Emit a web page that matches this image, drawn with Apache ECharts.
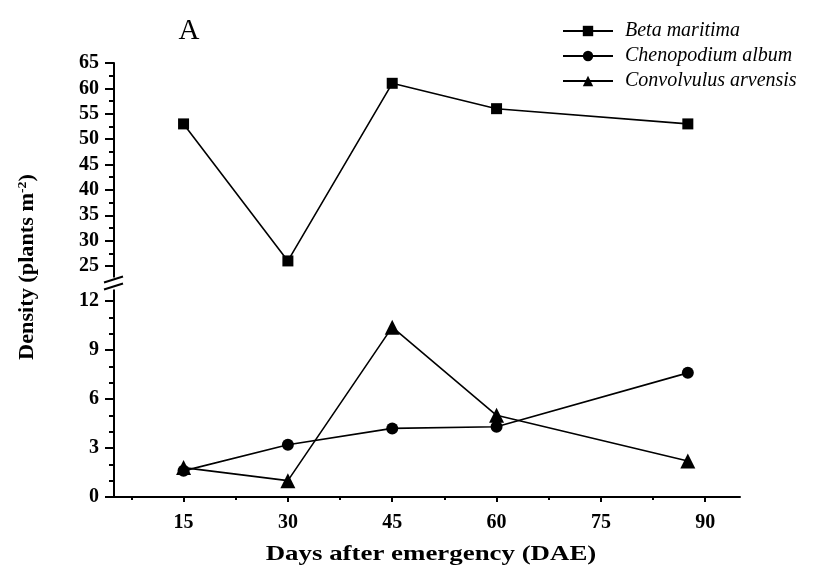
<!DOCTYPE html>
<html>
<head>
<meta charset="utf-8">
<script src="https://cdn.jsdelivr.net/npm/echarts@6/dist/echarts.min.js"></script>
<style>
html,body{margin:0;padding:0;background:#fff;}
#c{width:815px;height:572px;}
</style>
</head>
<body>
<div id="c"></div>
<script>
var days = [15, 30, 45, 60, 87.5];
var betaMaritima = [53, 26, 61, 56, 53];
var chenopodiumAlbum = [1.6, 3.2, 4.2, 4.3, 7.6];
var convolvulusArvensis = [1.8, 1.0, 10.4, 5.0, 2.2];
var seriesNames = ['Beta maritima', 'Chenopodium album', 'Convolvulus arvensis'];
var xTicks = [15, 30, 45, 60, 75, 90];
var xMinorTicks = [7.5, 22.5, 37.5, 52.5, 67.5, 82.5];

function pairs(xs, ys) { return xs.map(function (x, i) { return [x, ys[i]]; }); }

var FONT = '"Liberation Serif", "Times New Roman", serif';
var chart = echarts.init(document.getElementById('c'), null, { renderer: 'canvas' });

var axisLineStyle = { color: '#000', width: 2 };
var yLabelStyle = { margin: 15, color: '#000', fontFamily: FONT, fontSize: 20, fontWeight: 'bold' };
var xLabelStyle = { margin: 16, color: '#000', fontFamily: FONT, fontSize: 20, fontWeight: 'bold' };

var option = {
  backgroundColor: '#fff',
  animation: false,
  title: {
    text: 'A', left: 184, top: 12, textAlign: 'center',
    textStyle: { fontFamily: FONT, fontSize: 29, fontWeight: 'normal', color: '#000' }
  },
  legend: {
    left: 562, top: 21, orient: 'vertical', itemWidth: 50, itemHeight: 13, itemGap: 5, padding: 0,
    data: seriesNames,
    textStyle: { fontFamily: FONT, fontSize: 20, fontStyle: 'italic', color: '#000', lineHeight: 20, padding: [0, 0, 0, 7] }
  },
  grid: [
    { left: 114, top: 63, width: 626, height: 203, containLabel: false },
    { left: 114, top: 301, width: 626, height: 196, containLabel: false }
  ],
  xAxis: [
    { type: 'value', gridIndex: 0, min: 5, max: 95, interval: 15, show: false },
    {
      type: 'value', gridIndex: 1, min: 5, max: 95, position: 'bottom',
      axisLine: { lineStyle: axisLineStyle },
      axisTick: { show: true, length: 5, customValues: xTicks, lineStyle: { color: '#000', width: 2 } },
      splitLine: { show: false },
      axisLabel: Object.assign({ customValues: xTicks }, xLabelStyle)
    },
    {
      type: 'value', gridIndex: 1, min: 5, max: 95, position: 'bottom', offset: 0,
      axisLine: { show: false },
      axisTick: { show: true, length: 3, customValues: xMinorTicks, lineStyle: { color: '#000', width: 2 } },
      splitLine: { show: false },
      axisLabel: { show: false }
    }
  ],
  yAxis: [
    {
      type: 'value', gridIndex: 0, min: 25, max: 65, interval: 5,
      axisLine: { show: true, lineStyle: axisLineStyle },
      axisTick: { show: true, length: 9, lineStyle: { color: '#000', width: 2 } },
      minorTick: { show: true, splitNumber: 2, length: 5, lineStyle: { color: '#000', width: 2 } },
      splitLine: { show: false },
      axisLabel: yLabelStyle
    },
    {
      type: 'value', gridIndex: 1, min: 0, max: 12, interval: 3,
      axisLine: { show: true, lineStyle: axisLineStyle },
      axisTick: { show: true, length: 9, lineStyle: { color: '#000', width: 2 } },
      minorTick: { show: true, splitNumber: 3, length: 5, lineStyle: { color: '#000', width: 2 } },
      splitLine: { show: false },
      axisLabel: yLabelStyle
    }
  ],
  series: [
    {
      name: seriesNames[0], type: 'line', xAxisIndex: 0, yAxisIndex: 0,
      data: pairs(days, betaMaritima), symbol: 'rect', symbolSize: 11,
      itemStyle: { color: '#000' }, lineStyle: { color: '#000', width: 1.6 }
    },
    {
      name: seriesNames[1], type: 'line', xAxisIndex: 1, yAxisIndex: 1,
      data: pairs(days, chenopodiumAlbum), symbol: 'circle', symbolSize: 12,
      itemStyle: { color: '#000' }, lineStyle: { color: '#000', width: 1.6 }
    },
    {
      name: seriesNames[2], type: 'line', xAxisIndex: 1, yAxisIndex: 1,
      data: pairs(days, convolvulusArvensis), symbol: 'triangle', symbolSize: 15,
      itemStyle: { color: '#000' }, lineStyle: { color: '#000', width: 1.6 }
    }
  ]
};
chart.setOption(option);

// axis break decoration and axis titles, positioned from the axes
var xAxisPx = chart.convertToPixel({ xAxisIndex: 1 }, 5);
var xMidPx = (chart.convertToPixel({ xAxisIndex: 1 }, 5) + chart.convertToPixel({ xAxisIndex: 1 }, 95)) / 2;
var upBottom = chart.convertToPixel({ yAxisIndex: 0 }, 25);
var lowTop = chart.convertToPixel({ yAxisIndex: 1 }, 12);
var yTop = chart.convertToPixel({ yAxisIndex: 0 }, 65);
var yBot = chart.convertToPixel({ yAxisIndex: 1 }, 0);
var gapMid = (upBottom + lowTop) / 2;
chart.setOption({
  graphic: [
    { type: 'line', shape: { x1: xAxisPx, y1: upBottom, x2: xAxisPx, y2: gapMid - 6 }, style: { stroke: '#000', lineWidth: 2 } },
    { type: 'line', shape: { x1: xAxisPx, y1: gapMid + 6, x2: xAxisPx, y2: lowTop }, style: { stroke: '#000', lineWidth: 2 } },
    { type: 'line', shape: { x1: xAxisPx - 10, y1: gapMid - 1, x2: xAxisPx + 9, y2: gapMid - 7 }, style: { stroke: '#000', lineWidth: 2 } },
    { type: 'line', shape: { x1: xAxisPx - 10, y1: gapMid + 6, x2: xAxisPx + 9, y2: gapMid }, style: { stroke: '#000', lineWidth: 2 } },
    {
      type: 'text', x: 28, y: (yTop + yBot) / 2 - 13, rotation: Math.PI / 2, scaleX: 1.06,
      style: {
        text: 'Density (plants m{sup|-2})',
        fill: '#000', font: 'bold 21px ' + FONT, align: 'center', verticalAlign: 'middle',
        rich: { sup: { fontSize: 13, fontWeight: 'bold', fontFamily: FONT, fill: '#000', padding: [0, 0, 11, 0] } }
      }
    },
    {
      type: 'text', x: xMidPx + 4, y: yBot + 58, scaleX: 1.28,
      style: {
        text: 'Days after emergency (DAE)',
        fill: '#000', font: 'bold 21px ' + FONT, align: 'center', verticalAlign: 'middle'
      }
    }
  ]
});
</script>
</body>
</html>
